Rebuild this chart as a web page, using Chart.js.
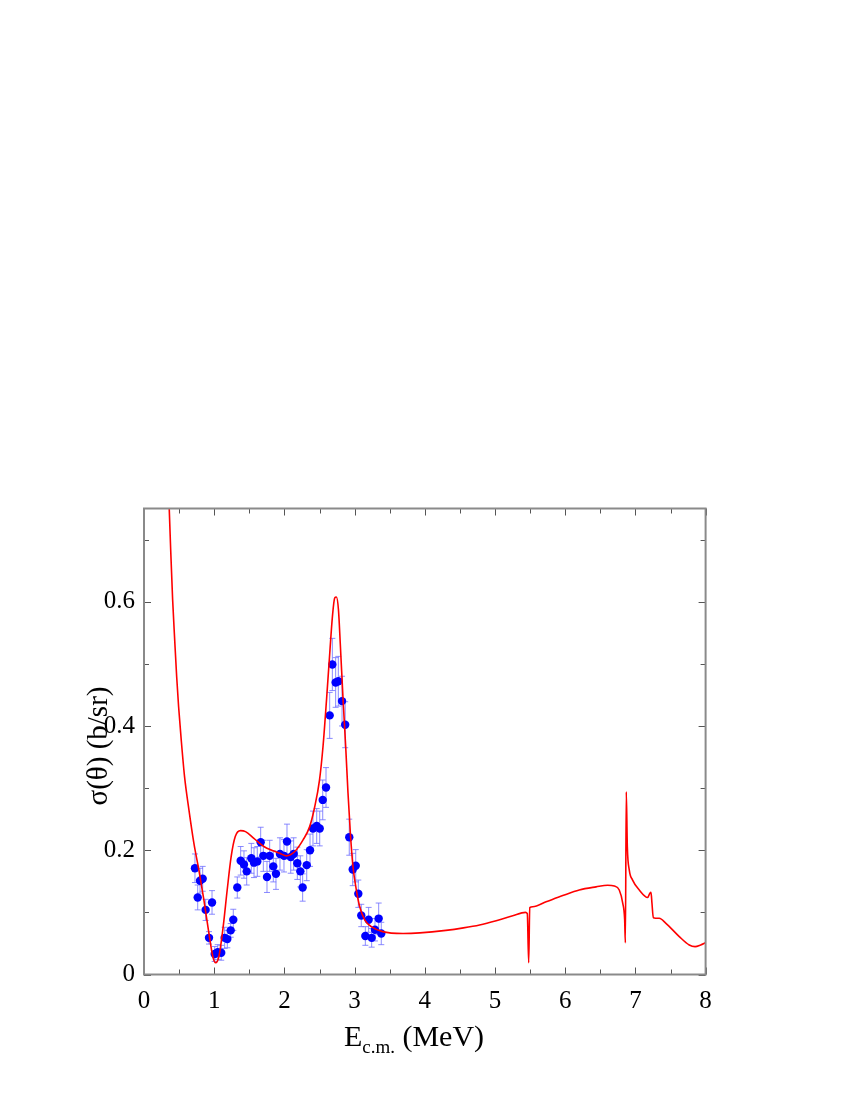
<!DOCTYPE html>
<html>
<head>
<meta charset="utf-8">
<script src="https://cdn.jsdelivr.net/npm/chart.js@4/dist/chart.umd.min.js"></script>
<style>
  html, body { margin: 0; padding: 0; background: #fff; }
  #wrap { width: 850px; height: 1100px; }
</style>
</head>
<body>
<div id="wrap"><canvas id="xsChart" width="850" height="1100"></canvas></div>
<script>
// measured points (E c.m. in MeV, cross section in b/sr, error)
const dataE = [0.726, 0.765, 0.798, 0.836, 0.878, 0.926, 0.969, 1.007, 1.05, 1.10,
  1.149, 1.187, 1.235, 1.272, 1.329, 1.377, 1.424, 1.463, 1.529, 1.567,
  1.614, 1.662, 1.70, 1.752, 1.79, 1.842, 1.88, 1.937, 1.994, 2.037,
  2.09, 2.132, 2.184, 2.227, 2.26, 2.318, 2.365, 2.407, 2.46, 2.503,
  2.546, 2.593, 2.645, 2.683, 2.73, 2.768, 2.821, 2.866, 2.924, 2.973,
  3.016, 3.053, 3.095, 3.153, 3.20, 3.243, 3.29, 3.343, 3.38];
const dataSigma = [0.171, 0.124, 0.151, 0.154, 0.104, 0.059, 0.116, 0.033, 0.036, 0.035,
  0.059, 0.057, 0.071, 0.088, 0.140, 0.183, 0.177, 0.166, 0.187, 0.180,
  0.182, 0.213, 0.191, 0.157, 0.191, 0.174, 0.162, 0.194, 0.191, 0.214,
  0.189, 0.194, 0.179, 0.166, 0.140, 0.176, 0.200, 0.235, 0.239, 0.235,
  0.281, 0.301, 0.417, 0.499, 0.470, 0.472, 0.440, 0.402, 0.221, 0.169,
  0.175, 0.130, 0.095, 0.062, 0.088, 0.059, 0.072, 0.090, 0.066];
const dataErr = [0.023, 0.020, 0.020, 0.020, 0.017, 0.010, 0.019, 0.012, 0.012, 0.012,
  0.017, 0.014, 0.011, 0.017, 0.017, 0.023, 0.022, 0.022, 0.024, 0.024,
  0.024, 0.024, 0.025, 0.025, 0.025, 0.025, 0.025, 0.026, 0.026, 0.028,
  0.026, 0.026, 0.026, 0.025, 0.022, 0.025, 0.026, 0.028, 0.028, 0.028,
  0.032, 0.032, 0.037, 0.042, 0.040, 0.040, 0.040, 0.037, 0.029, 0.026,
  0.026, 0.022, 0.018, 0.015, 0.020, 0.015, 0.018, 0.025, 0.018];

// calculated curve
const curveE = [0.35, 0.36, 0.38, 0.408, 0.437, 0.465, 0.493, 0.53, 0.578, 0.64,
  0.711, 0.782, 0.853, 0.925, 0.98, 1.02, 1.067, 1.128, 1.185, 1.242,
  1.30, 1.375, 1.446, 1.565, 1.707, 1.84, 1.935, 2.03, 2.148, 2.266,
  2.36, 2.432, 2.50, 2.55, 2.60, 2.646, 2.684, 2.717, 2.74, 2.77,
  2.798, 2.836, 2.873, 2.906, 2.94, 2.977, 3.025, 3.073, 3.144, 3.239,
  3.40, 3.69, 3.93, 4.3, 4.55, 4.78, 5.017, 5.253, 5.434, 5.46,
  5.48, 5.495, 5.538, 5.728, 5.965, 6.20, 6.44, 6.605, 6.70, 6.77,
  6.82, 6.847, 6.857, 6.87, 6.885, 6.913, 6.96, 7.055, 7.174, 7.207,
  7.222, 7.236, 7.255, 7.34, 7.435, 7.625, 7.767, 7.85, 7.93, 8.0];
const curveSigma = [0.78, 0.748, 0.684, 0.603, 0.539, 0.480, 0.431, 0.378, 0.318, 0.265,
  0.211, 0.168, 0.12, 0.066, 0.029, 0.019, 0.029, 0.077, 0.136, 0.19,
  0.222, 0.2315, 0.230, 0.219, 0.206, 0.199, 0.195, 0.191, 0.198, 0.2166,
  0.238, 0.27, 0.313, 0.367, 0.442, 0.517, 0.576, 0.606, 0.6075, 0.587,
  0.528, 0.442, 0.367, 0.292, 0.227, 0.1736, 0.136, 0.109, 0.088, 0.077,
  0.069, 0.066, 0.067, 0.071, 0.075, 0.0797, 0.0866, 0.0947, 0.100, 0.098,
  0.019, 0.1076, 0.109, 0.117, 0.127, 0.136, 0.141, 0.1436, 0.1425, 0.136,
  0.1146, 0.088, 0.051, 0.294, 0.206, 0.168, 0.152, 0.136, 0.124, 0.131,
  0.1324, 0.1146, 0.0915, 0.0905, 0.0824, 0.061, 0.0475, 0.0448, 0.0475, 0.051];

const xTickLabels = ["0", "1", "2", "3", "4", "5", "6", "7", "8"];
const yTickLabels = ["0", "0.2", "0.4", "0.6"];

const serif = "'Liberation Serif', 'DejaVu Serif', serif";

// inward ticks on all four sides + frame + axis titles
const framePlugin = {
  id: "frame",
  afterDraw(chart) {
    const { ctx, chartArea: a, scales } = chart;
    const xs = scales.x, ys = scales.y;
    ctx.save();
    ctx.strokeStyle = "#555";
    ctx.lineWidth = 1;
    for (let i = 0; i <= 16; i++) {
      const v = i * 0.5;
      const px = Math.round(xs.getPixelForValue(v)) + 0.5;
      const len = i % 2 === 0 ? 7 : 5;
      ctx.beginPath();
      ctx.moveTo(px, a.bottom); ctx.lineTo(px, a.bottom - len);
      ctx.moveTo(px, a.top); ctx.lineTo(px, a.top + len);
      ctx.stroke();
    }
    for (let i = 0; i <= 7; i++) {
      const v = i * 0.1;
      const py = Math.round(ys.getPixelForValue(v)) + 0.5;
      const len = i % 2 === 0 ? 7 : 5;
      ctx.beginPath();
      ctx.moveTo(a.left, py); ctx.lineTo(a.left + len, py);
      ctx.moveTo(a.right, py); ctx.lineTo(a.right - len, py);
      ctx.stroke();
    }
    ctx.strokeStyle = "#8a8a8a";
    ctx.lineWidth = 2;
    ctx.strokeRect(a.left, a.top, a.right - a.left, a.bottom - a.top);

    ctx.fillStyle = "#000";
    // y title
    ctx.save();
    ctx.translate(99, 746);
    ctx.rotate(-Math.PI / 2);
    ctx.font = "29px " + serif;
    ctx.textAlign = "center";
    ctx.textBaseline = "middle";
    ctx.fillText("σ(θ) (b/sr)", 0, 0);
    ctx.restore();
    // x title with subscript
    ctx.textBaseline = "alphabetic";
    ctx.textAlign = "left";
    ctx.font = "30px " + serif;
    const e = "E", rest = " (MeV)", sub = "c.m.";
    const wE = ctx.measureText(e).width;
    const wR = ctx.measureText(rest).width;
    ctx.font = "19px " + serif;
    const wS = ctx.measureText(sub).width;
    let x0 = 414 - (wE + wS + wR) / 2;
    const base = 1046;
    ctx.font = "30px " + serif;
    ctx.fillText(e, x0, base);
    ctx.font = "19px " + serif;
    ctx.fillText(sub, x0 + wE, base + 7);
    ctx.font = "30px " + serif;
    ctx.fillText(rest, x0 + wE + wS, base);
    ctx.restore();
  }
};

// vertical error bars with caps under the points
const errorBarPlugin = {
  id: "errorBars",
  beforeDatasetsDraw(chart) {
    const { ctx, scales } = chart;
    ctx.save();
    ctx.strokeStyle = "rgba(110,110,255,0.8)";
    ctx.lineWidth = 1;
    for (let i = 0; i < dataE.length; i++) {
      const px = scales.x.getPixelForValue(dataE[i]);
      const top = scales.y.getPixelForValue(dataSigma[i] + dataErr[i]);
      const bot = scales.y.getPixelForValue(dataSigma[i] - dataErr[i]);
      ctx.beginPath();
      ctx.moveTo(px, top); ctx.lineTo(px, bot);
      ctx.moveTo(px - 3, top); ctx.lineTo(px + 3, top);
      ctx.moveTo(px - 3, bot); ctx.lineTo(px + 3, bot);
      ctx.stroke();
    }
    ctx.restore();
  }
};

const ctx = document.getElementById("xsChart").getContext("2d");
new Chart(ctx, {
  type: "scatter",
  data: {
    datasets: [
      {
        label: "calculation",
        data: curveE.map((e, i) => ({ x: e, y: curveSigma[i] })),
        showLine: true,
        borderColor: "#ff0000",
        borderWidth: 1.6,
        pointRadius: 0,
        cubicInterpolationMode: "monotone",
        order: 0
      },
      {
        label: "data",
        data: dataE.map((e, i) => ({ x: e, y: dataSigma[i] })),
        showLine: false,
        pointRadius: 4.2,
        pointBackgroundColor: "#0000ff",
        pointBorderColor: "#0000ff",
        pointBorderWidth: 0,
        order: 1
      }
    ]
  },
  options: {
    responsive: false,
    animation: false,
    layout: { padding: { top: 508.5, right: 144.4, left: 0, bottom: 0 } },
    plugins: { legend: { display: false }, tooltip: { enabled: false } },
    scales: {
      x: {
        type: "linear",
        min: 0, max: 8,
        grid: { display: false, drawTicks: false },
        border: { display: false },
        afterFit(s) { s.height = 1100 - 974.5; },
        afterBuildTicks(s) { s.ticks = xTickLabels.map(v => ({ value: Number(v) })); },
        ticks: {
          padding: 12,
          color: "#000",
          font: { family: serif, size: 25 },
          callback: (v) => xTickLabels[Math.round(v)]
        }
      },
      y: {
        type: "linear",
        min: 0, max: 0.75,
        grid: { display: false, drawTicks: false },
        border: { display: false },
        afterFit(s) { s.width = 144; },
        afterBuildTicks(s) { s.ticks = yTickLabels.map(v => ({ value: Number(v) })); },
        ticks: {
          padding: 9,
          color: "#000",
          font: { family: serif, size: 25 },
          callback: (v) => yTickLabels.find(t => Math.abs(Number(t) - v) < 1e-6)
        }
      }
    }
  },
  plugins: [errorBarPlugin, framePlugin]
});
</script>
</body>
</html>
